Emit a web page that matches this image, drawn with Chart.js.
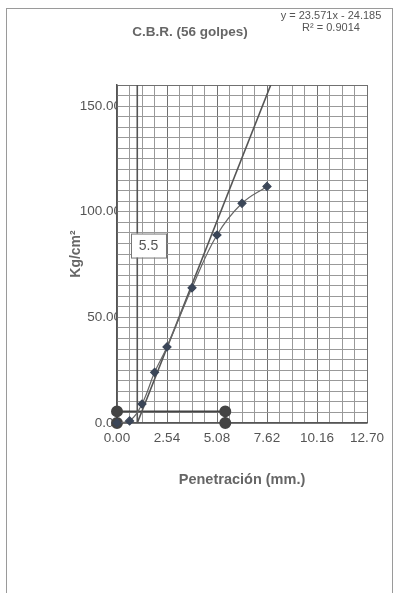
<!DOCTYPE html>
<html>
<head>
<meta charset="utf-8">
<script src="https://cdn.jsdelivr.net/npm/chart.js@4/dist/chart.umd.min.js"></script>
<style>
  html, body { margin: 0; padding: 0; background: #fff; }
  body { width: 394px; height: 593px; position: relative; overflow: hidden; font-family: "Liberation Sans", Arial, sans-serif; }
  #frame { position: absolute; left: 6px; top: 8px; width: 385px; height: 600px; border: 1px solid #9a9a9a; }
  #wrap { position: absolute; left: 0; top: 0; width: 394px; height: 593px; }
  .title { position: absolute; left: 190px; top: 24px; transform: translateX(-50%); font-weight: bold; font-size: 13.5px; color: #666; white-space: nowrap; }
  .eq { position: absolute; left: 331px; transform: translateX(-50%); font-size: 11px; color: #555; white-space: nowrap; }
</style>
</head>
<body>
<div id="frame"></div>
<div id="wrap"><canvas id="chart" width="394" height="593"></canvas></div>
<div class="title">C.B.R. (56 golpes)</div>
<div class="eq" style="top:9px">y = 23.571x - 24.185</div>
<div class="eq" style="top:21px">R² = 0.9014</div>

<script>
// penetration test readings
const penetration = [0, 0.64, 1.27, 1.91, 2.54, 3.81, 5.08, 6.35, 7.62];
const pressure = [0, 1, 9, 24, 36, 64, 89, 104, 112];

// linear trendline (as drawn) and corrected zero line
const trendX = [1.03, 7.81];
const trendY = [0, 160];
const zeroX = [1.03, 1.03];
const zeroY = [0, 160];

// CBR reading markers
const cbrX = [0, 0, 5.5, 5.5];
const cbrY = [0, 5.5, 5.5, 0];
const cbrLabel = "5.5";
const cbrLabelPos = [1.6, 84];

const xMajor = 2.54;
const xStep = 0.635;
const yMajor = 50;
const yStep = 5;

function toPoints(xs, ys) {
  return xs.map((x, i) => ({ x: x, y: ys[i] }));
}

function isMultiple(v, step) {
  const r = v / step;
  return Math.abs(r - Math.round(r)) < 1e-6;
}

const labelBox = {
  id: "labelBox",
  afterDatasetsDraw(chart) {
    const { ctx, scales } = chart;
    const cx = scales.x.getPixelForValue(cbrLabelPos[0]);
    const cy = scales.y.getPixelForValue(cbrLabelPos[1]);
    const w = 35, h = 24;
    ctx.save();
    ctx.fillStyle = "#fff";
    ctx.strokeStyle = "#777";
    ctx.lineWidth = 1;
    ctx.fillRect(cx - w / 2, cy - h / 2, w, h);
    ctx.strokeRect(cx - w / 2 + 0.5, cy - h / 2 + 0.5, w, h);
    ctx.fillStyle = "#555";
    ctx.font = "14px 'Liberation Sans', Arial, sans-serif";
    ctx.textAlign = "center";
    ctx.textBaseline = "middle";
    ctx.fillText(cbrLabel, cx, cy + 1);
    ctx.restore();
  }
};

const font = { family: "'Liberation Sans', Arial, sans-serif", size: 13.5 };

new Chart(document.getElementById("chart").getContext("2d"), {
  type: "scatter",
  data: {
    datasets: [
      {
        label: "Curva",
        data: toPoints(penetration, pressure),
        showLine: true,
        borderColor: "#666",
        borderWidth: 1.2,
        tension: 0.4,
        pointStyle: "rectRot",
        pointRadius: 4,
        pointBackgroundColor: "#3b4658",
        pointBorderColor: "#3b4658",
        clip: false
      },
      {
        label: "Tendencia",
        data: toPoints(trendX, trendY),
        showLine: true,
        borderColor: "#555",
        borderWidth: 1.6,
        pointRadius: 0
      },
      {
        label: "Cero",
        data: toPoints(zeroX, zeroY),
        showLine: true,
        borderColor: "#555",
        borderWidth: 1.6,
        pointRadius: 0
      },
      {
        label: "CBR",
        data: toPoints(cbrX, cbrY),
        showLine: true,
        borderColor: "#444",
        borderWidth: 2,
        pointRadius: 5,
        pointBackgroundColor: "#444",
        pointBorderColor: "#444",
        clip: false
      }
    ]
  },
  options: {
    responsive: false,
    animation: false,
    devicePixelRatio: 1,
    layout: { padding: { left: 0, right: 27, top: 85, bottom: 0 } },
    plugins: {
      legend: { display: false },
      tooltip: { enabled: false }
    },
    scales: {
      x: {
        type: "linear",
        min: 0,
        max: 12.7,
        afterFit: s => { s.height = 170; },
        border: { color: "#555", width: 1.5 },
        grid: {
          drawTicks: false,
          color: ctx => isMultiple(ctx.tick.value, xMajor) ? "#707070" : "#999",
          lineWidth: 1
        },
        ticks: {
          stepSize: xStep,
          autoSkip: false,
          maxRotation: 0,
          padding: 7,
          color: "#555",
          font: font,
          callback: v => isMultiple(v, xMajor) ? v.toFixed(2) : ""
        },
        title: {
          display: true,
          text: "Penetración (mm.)",
          color: "#666",
          font: { family: font.family, size: 14.5, weight: "bold" },
          padding: { top: 0, bottom: 104 }
        }
      },
      y: {
        type: "linear",
        min: 0,
        max: 160,
        afterFit: s => { s.width = 117; },
        border: { color: "#555", width: 1.5 },
        grid: {
          drawTicks: false,
          color: ctx => ctx.tick.value === 160 ? "#707070" : "#999",
          lineWidth: 1
        },
        ticks: {
          stepSize: yStep,
          autoSkip: false,
          padding: -4,
          color: "#555",
          font: font,
          callback: v => isMultiple(v, yMajor) ? v.toFixed(2) : ""
        },
        title: {
          display: true,
          text: "Kg/cm²",
          color: "#666",
          font: { family: font.family, size: 14, weight: "bold" },
          padding: { top: 68, bottom: 0 }
        }
      }
    }
  },
  plugins: [labelBox]
});
</script>
</body>
</html>
